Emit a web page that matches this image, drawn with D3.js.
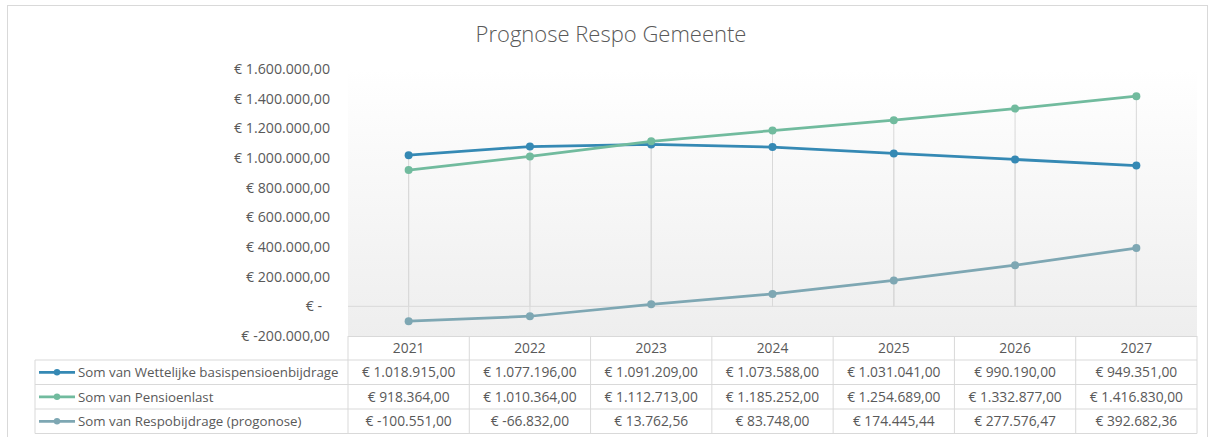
<!DOCTYPE html>
<html>
<head>
<meta charset="utf-8">
<script src="https://cdn.jsdelivr.net/npm/d3@7"></script>
<style>
  html, body { margin: 0; padding: 0; background: #fff; }
  svg { display: block; font-family: "Open Sans", "Noto Sans", sans-serif; }
</style>
</head>
<body>
<div id="chart"></div>
<script>
const years = ['2021', '2022', '2023', '2024', '2025', '2026', '2027'];
const seriesNames = [
  'Som van Wettelijke basispensioenbijdrage',
  'Som van Pensioenlast',
  'Som van Respobijdrage (progonose)'
];
const wettelijke = [1018915, 1077196, 1091209, 1073588, 1031041, 990190, 949351];
const pensioenlast = [918364, 1010364, 1112713, 1185252, 1254689, 1332877, 1416830];
const respo = [-100551, -66832, 13762.56, 83748, 174445.44, 277576.47, 392682.36];
const yTicks = [-200000, 0, 200000, 400000, 600000, 800000, 1000000, 1200000, 1400000, 1600000];
const colors = ['#3589b4', '#71bb9e', '#7ea7b3'];

const series = seriesNames.map((name, i) => ({
  name,
  color: colors[i],
  values: [wettelijke, pensioenlast, respo][i]
}));

const width = 1213;
const height = 437;
const plot = { left: 348, right: 1197, top: 69, bottom: 336 };
const textColor = '#595959';
const gridColor = '#d9d9d9';

const locale = d3.formatLocale({
  decimal: ',', thousands: '.', grouping: [3], currency: ['€ ', ''], minus: '-'
});
const num = locale.format(',.2f');
const euro = (v) => `€ ${num(v)}`;

const svg = d3.select('#chart').append('svg')
  .attr('width', width)
  .attr('height', height);

const defs = svg.append('defs');
const grad = defs.append('linearGradient')
  .attr('id', 'plotFill')
  .attr('x1', 0).attr('y1', 0).attr('x2', 0).attr('y2', 1);
grad.append('stop').attr('offset', '0%').attr('stop-color', '#ffffff');
grad.append('stop').attr('offset', '100%').attr('stop-color', '#eeeeee');

// chart border
svg.append('rect')
  .attr('x', 7.5).attr('y', 5.5)
  .attr('width', 1200).attr('height', 440)
  .attr('fill', '#fff')
  .attr('stroke', gridColor);

const x = d3.scaleBand().domain(years).range([plot.left, plot.right]);
const y = d3.scaleLinear().domain([-200000, 1600000]).range([plot.bottom, plot.top]);
const cx = (d) => x(d) + x.bandwidth() / 2;

// plot area
svg.append('rect')
  .attr('x', plot.left).attr('y', plot.top)
  .attr('width', plot.right - plot.left).attr('height', plot.bottom - plot.top)
  .attr('fill', 'url(#plotFill)');

svg.append('text')
  .attr('x', 611).attr('y', 42)
  .attr('text-anchor', 'middle')
  .attr('font-size', 22)
  .attr('font-weight', 300)
  .attr('fill', textColor)
  .text('Prognose Respo Gemeente');

// y axis labels
const yAxis = d3.axisLeft(y)
  .tickValues(yTicks)
  .tickSize(0)
  .tickPadding(0)
  .tickFormat((v) => (v === 0 ? '€ -' : euro(v)));

const yG = svg.append('g')
  .attr('transform', 'translate(330,0)')
  .call(yAxis);
yG.select('.domain').remove();
yG.selectAll('text')
  .attr('font-family', '"Open Sans", "Noto Sans", sans-serif')
  .attr('font-size', 14.2)
  .attr('fill', textColor)
  .attr('dx', (v) => (v === 0 ? -8 : 0));

// zero axis line
svg.append('line')
  .attr('x1', plot.left).attr('x2', plot.right)
  .attr('y1', y(0)).attr('y2', y(0))
  .attr('stroke', gridColor).attr('stroke-width', 1);

// drop lines
const dropG = svg.append('g');
series.forEach((s) => {
  dropG.selectAll(null)
    .data(years)
    .join('line')
    .attr('x1', cx).attr('x2', cx)
    .attr('y1', (d, i) => y(s.values[i]))
    .attr('y2', y(0))
    .attr('stroke', gridColor)
    .attr('stroke-width', 1);
});

// lines and points
const line = d3.line()
  .x((d) => cx(d.year))
  .y((d) => y(d.value));

series.forEach((s) => {
  const pts = years.map((year, i) => ({ year, value: s.values[i] }));
  svg.append('path')
    .datum(pts)
    .attr('fill', 'none')
    .attr('stroke', s.color)
    .attr('stroke-width', 2.75)
    .attr('stroke-linejoin', 'round')
    .attr('d', line);
  svg.append('g').selectAll('circle')
    .data(pts)
    .join('circle')
    .attr('cx', (d) => cx(d.year))
    .attr('cy', (d) => y(d.value))
    .attr('r', 4)
    .attr('fill', s.color);
});

// data table
const rowH = 24.5;
const headerTop = plot.bottom;
const headerBottom = 360;
const tableLeft = 35;
const tableBottom = headerBottom + rowH * series.length;
const tbl = svg.append('g')
  .attr('font-size', 13.8)
  .attr('fill', textColor);

// header cells
tbl.selectAll('.hdr')
  .data(years)
  .join('text')
  .attr('x', cx)
  .attr('y', (headerTop + headerBottom) / 2 + 5)
  .attr('text-anchor', 'middle')
  .text((d) => d);

// grid
const gridG = svg.append('g').attr('stroke', gridColor).attr('stroke-width', 1).attr('fill', 'none');
gridG.append('line')
  .attr('x1', plot.left).attr('x2', plot.right)
  .attr('y1', headerTop + 0.5).attr('y2', headerTop + 0.5);
d3.range(series.length + 1).forEach((i) => {
  const yy = headerBottom + i * rowH;
  gridG.append('line')
    .attr('x1', tableLeft).attr('x2', plot.right)
    .attr('y1', yy).attr('y2', yy);
});
x.domain().concat(['end']).forEach((d) => {
  const xx = d === 'end' ? plot.right : x(d);
  gridG.append('line')
    .attr('x1', xx).attr('x2', xx)
    .attr('y1', headerTop).attr('y2', tableBottom);
});
gridG.append('line')
  .attr('x1', tableLeft).attr('x2', tableLeft)
  .attr('y1', headerBottom).attr('y2', tableBottom);

series.forEach((s, r) => {
  const rowMid = headerBottom + r * rowH + rowH / 2;
  tbl.append('line')
    .attr('x1', tableLeft + 4).attr('x2', tableLeft + 40)
    .attr('y1', rowMid).attr('y2', rowMid)
    .attr('stroke', s.color).attr('stroke-width', 2.75);
  tbl.append('circle')
    .attr('cx', tableLeft + 22).attr('cy', rowMid)
    .attr('r', 3.2).attr('fill', s.color);
  tbl.append('text')
    .attr('x', tableLeft + 43)
    .attr('y', rowMid + 5)
    .attr('font-size', 13.3)
    .text(s.name);
  tbl.append('g').selectAll('text')
    .data(years)
    .join('text')
    .attr('x', cx)
    .attr('y', rowMid + 5)
    .attr('text-anchor', 'middle')
    .text((d, i) => euro(s.values[i]));
});
</script>
</body>
</html>
